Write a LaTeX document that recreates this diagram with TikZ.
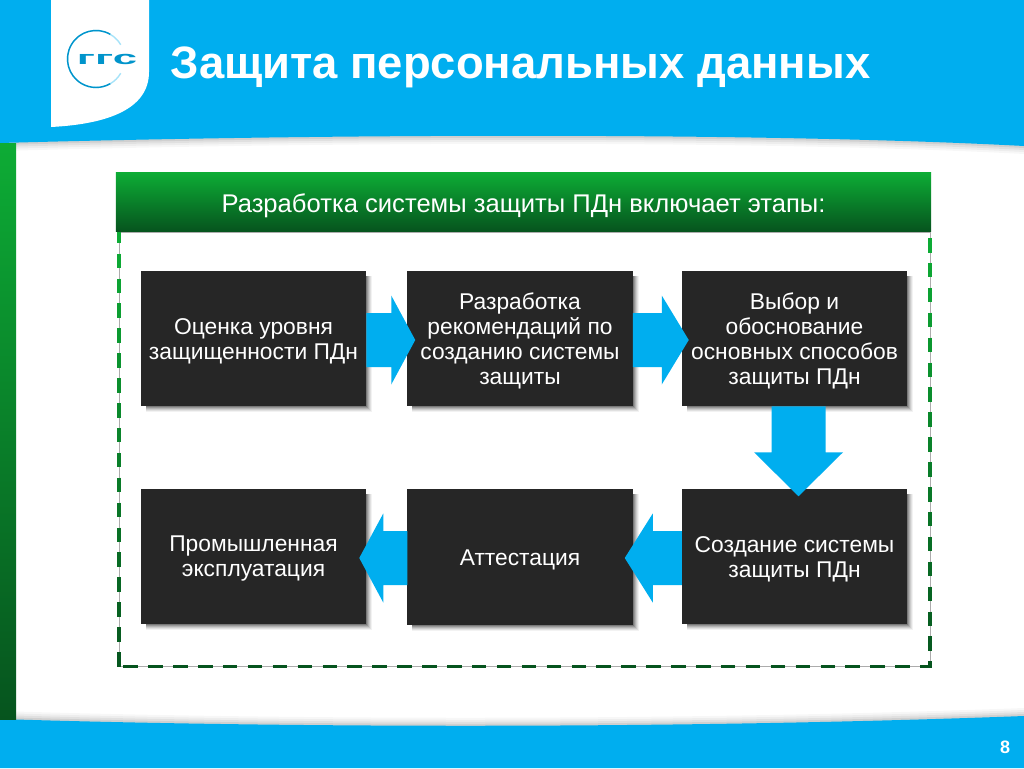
\documentclass[tikz,border=0pt]{standalone}
\usepackage{fontspec}
\setmainfont{Liberation Sans}
\usetikzlibrary{calc}
\definecolor{skyb}{RGB}{0,174,239}
\definecolor{grtop}{RGB}{13,172,53}
\definecolor{grbot}{RGB}{6,84,30}
\definecolor{boxdark}{RGB}{38,38,38}
\tikzset{
  x=1pt,y=-1pt,
  stage/.style={draw=none,fill=boxdark,minimum width=225.5pt,minimum height=135.5pt,inner sep=0pt,outer sep=0pt},
  stagetext/.style={text=white,inner sep=0pt,outer sep=0pt,align=center,font=\fontsize{22.8}{25}\selectfont},
  dashpart/.style={line width=3.6pt}
}
\newcommand{\softshadow}[4]{%
  \foreach \e/\o in {6/.05,5/.07,4/.09,3/.12,2/.15,1/.2}{
    \fill[black,opacity=\o] (#1+5,#2+5) rectangle (#3+\e,#4+\e);
  }}
% start point, direction, total length, head length
\newcommand{\blockarr}[4]{%
  \begin{scope}[shift={#1},rotate=#2]
    \fill[skyb] (0,-27) -- (#3-#4,-27) -- (#3-#4,-44.5) -- (#3,0) -- (#3-#4,44.5) -- (#3-#4,27) -- (0,27) -- cycle;
  \end{scope}}
\begin{document}
\begin{tikzpicture}
\useasboundingbox (0,0) rectangle (1024,768);
\fill[white] (0,0) rectangle (1024,768);
% page band shadows
\foreach \e/\o in {8/.03,6/.04,4/.05,2/.07}{
  \fill[black,opacity=\o] (0,143+\e) .. controls (400,132+\e) and (800,134+\e) .. (1024,146+\e) -- (1024,130) -- (0,130) -- cycle;
  \fill[black,opacity=\o] (0,719-\e) .. controls (250,727-\e) and (650,730-\e) .. (1024,716-\e) -- (1024,740) -- (0,740) -- cycle;
}
% bands
\fill[skyb] (0,0) -- (1024,0) -- (1024,146) .. controls (800,134) and (400,132) .. (0,143) -- cycle;
\fill[skyb] (0,719) .. controls (250,727) and (650,730) .. (1024,716) -- (1024,768) -- (0,768) -- cycle;
% logo tab
\fill[white] (51,0) -- (149,0) -- (149,72) .. controls (149,108) and (110,124) .. (51,127) -- cycle;
\draw[skyb!35,line width=1.4pt] (120.7,44.75) arc[start angle=-30,end angle=-330,radius=28.5];
\draw[skyb!85!black,line width=1.4pt] (110.25,34.3) arc[start angle=-60,end angle=-300,radius=28.5];
\node (logo) at (107,59) [text=skyb!85!black,font=\bfseries\fontsize{19}{19}\selectfont,inner sep=0pt,xscale=2.3] {ггс};
% title
\node (title) at (520.5,67.5) [text=white,font=\bfseries\fontsize{45.4}{50}\selectfont,inner sep=0pt] {Защита персональных данных};
% left bar
\shade[top color=grtop,bottom color=grbot] (0,143) rectangle (16,719);
% dashed frame
\draw[gray!65,line width=.8pt] (119,232) rectangle (930,666.5);
\draw[dashpart,color=grtop] (119,232) -- (119,243.2);
\foreach \n in {0,...,16}{
  \pgfmathsetmacro{\yy}{253.6+24.9*\n}
  \pgfmathsetmacro{\m}{(\yy-232)/4.35}
  \draw[dashpart,color=grbot!\m!grtop] (119,\yy) -- +(0,14.5);
}
\foreach \n in {0,...,16}{
  \pgfmathsetmacro{\yy}{238+24.9*\n}
  \pgfmathsetmacro{\m}{(\yy-232)/4.35}
  \draw[dashpart,color=grbot!\m!grtop] (930,\yy) -- +(0,14.5);
}
\draw[dashpart,color=grbot] (930,661) -- (930,668.3);
\foreach \n in {0,...,31}{
  \pgfmathsetmacro{\xx}{123.3+24.9*\n}
  \draw[dashpart,color=grbot] (\xx,666.5) -- +(14.5,0);
}
\draw[dashpart,color=grbot] (920,666.5) -- (930,666.5);
% header
\node[minimum width=815pt,minimum height=58pt,inner sep=0pt] (hdr) at (523.5,202) {};
\shade[top color=grtop,bottom color=grbot] (hdr.north west) rectangle (hdr.south east);
\node (hdrtext) at ($(hdr.center)+(0,3.5)$) [text=white,font=\fontsize{25.6}{30}\selectfont,inner sep=0pt] {Разработка системы защиты ПДн включает этапы:};
% shadows
\softshadow{141}{271}{366}{406}
\softshadow{407}{271}{633}{406}
\softshadow{682}{271}{907}{406}
\softshadow{141}{489}{366}{624}
\softshadow{407}{489}{633}{625}
\softshadow{682}{489}{907}{624}
% stages
\node[stage] (s1) at (253.5,338.5) {};
\node[stage] (s2) at (520,338.5) {};
\node[stage] (s3) at (794.5,338.5) {};
\node[stage] (s4) at (794.5,556.5) {};
\node[stage] (s5) at (520,557) {};
\node[stage] (s6) at (253.5,556.5) {};
\node[stagetext] (t1) at ($(s1.center)+(0,2.5)$) {Оценка уровня\\защищенности ПДн};
\node[stagetext] (t2) at ($(s2.center)+(0,2.5)$) {Разработка\\рекомендаций по\\созданию системы\\защиты};
\node[stagetext] (t3) at ($(s3.center)+(0,2.5)$) {Выбор и\\обоснование\\основных способов\\защиты ПДн};
\node[stagetext] (t4) at ($(s4.center)+(0,2.5)$) {Создание системы\\защиты ПДн};
\node[stagetext] (t5) at ($(s5.center)+(0,2.5)$) {Аттестация};
\node[stagetext] (t6) at ($(s6.center)+(0,2.5)$) {Промышленная\\эксплуатация};
% arrows
\blockarr{($(s1.east)+(0,1.5)$)}{0}{49}{24}
\blockarr{($(s2.east)+(0,1.5)$)}{0}{56}{27}
\blockarr{($(s3.south)+(4,0)$)}{-90}{90}{44}
\blockarr{($(s4.west)+(0,1.5)$)}{180}{57}{28}
\blockarr{($(s5.west)+(0,1)$)}{180}{48}{24}
% page number
\node (pg) at (1005,747) [text=white,font=\bfseries\fontsize{18}{18}\selectfont,inner sep=0pt] {8};
\end{tikzpicture}
\end{document}
